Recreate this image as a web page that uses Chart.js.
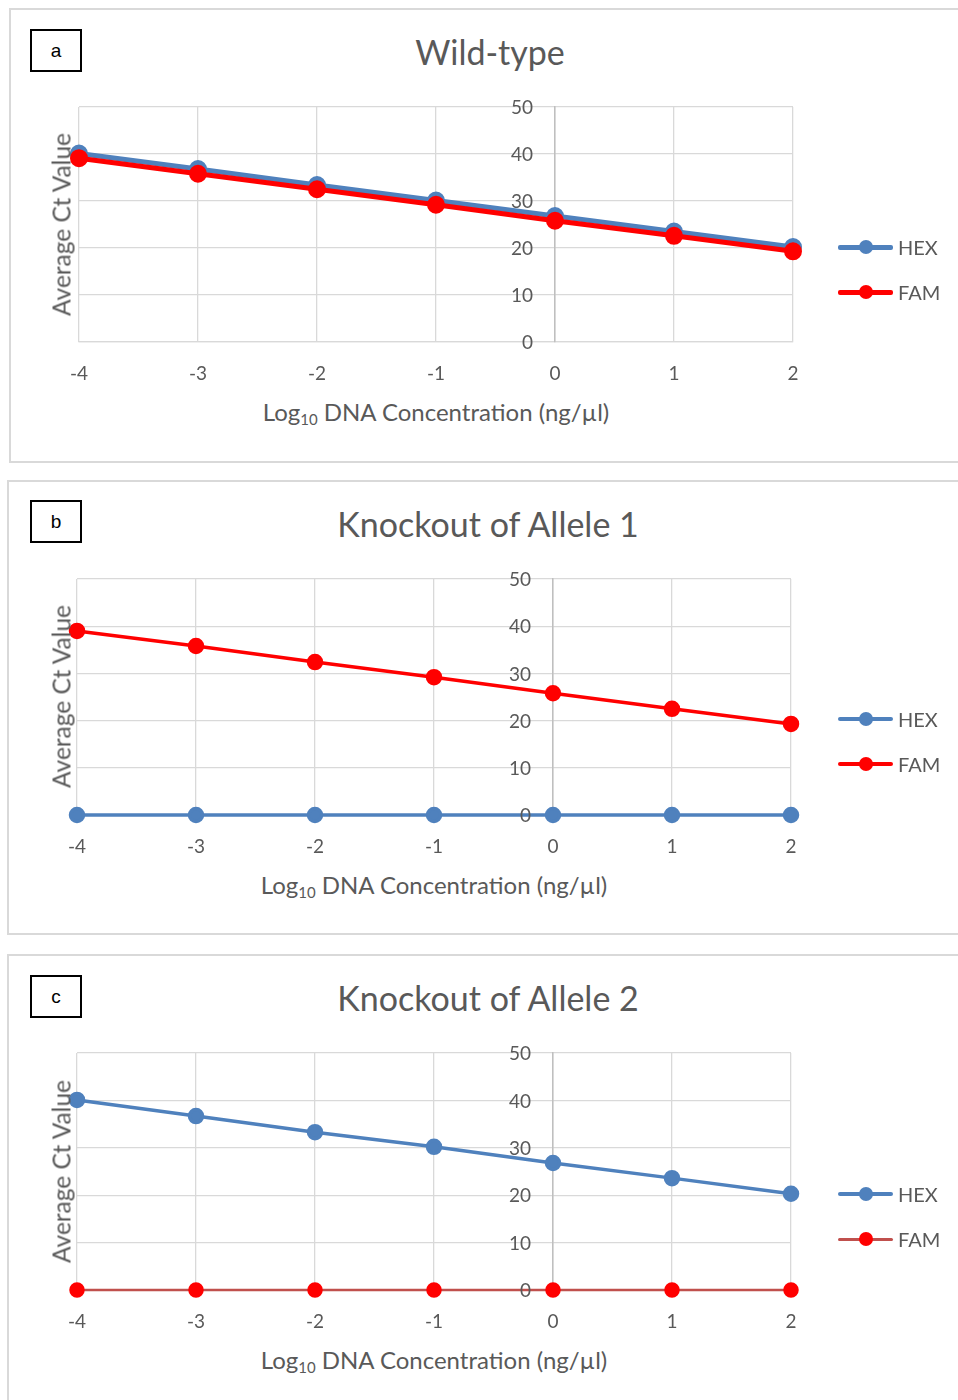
<!DOCTYPE html>
<html>
<head>
<meta charset="utf-8">
<script src="https://cdn.jsdelivr.net/npm/chart.js@4.4.1/dist/chart.umd.min.js"></script>
<style>
  html, body { margin: 0; padding: 0; background: #fff; }
  body { width: 958px; height: 1400px; position: relative; overflow: hidden; font-family: Lato, "Open Sans", sans-serif; color: #595959; }
  .panel { position: absolute; border: 2px solid #d9d9d9; box-sizing: border-box; background: #fff; }
  .tag { position: absolute; width: 52px; height: 43px; border: 2px solid #000; box-sizing: border-box;
         font: 19px "Liberation Sans", Arial, sans-serif; color: #000; text-align: center; line-height: 39px; }
  .title { position: absolute; font-size: 34px; text-align: center; width: 600px; white-space: nowrap; line-height: 40px; }
  .xtitle { position: absolute; font-size: 24px; text-align: center; width: 500px; white-space: nowrap; }
  .xtitle sub { font-size: 15px; vertical-align: -4px; }
  .ytitle { position: absolute; font-size: 24.5px; width: 300px; text-align: center; white-space: nowrap; transform: rotate(-90deg); }
  .chartbox { position: absolute; }
  .leg { position: absolute; font-size: 20px; height: 24px; line-height: 24px; white-space: nowrap; }
  .leg .ln { position: absolute; left: 0; top: 10px; width: 55px; height: 4px; border-radius: 2px; }
  .leg .dot { position: absolute; left: 21px; top: 5px; width: 14px; height: 14px; border-radius: 50%; }
  .leg .tx { position: absolute; left: 60px; top: 0; }
</style>
</head>
<body>
<script>
// x positions (log10 concentration) and average Ct values
const concentrations = [-4, -3, -2, -1, 0, 1, 2];
const hexWildType = [40.1, 36.8, 33.4, 30.1, 26.8, 23.5, 20.2];
const famWildType = [39.1, 35.8, 32.5, 29.2, 25.8, 22.6, 19.3];
const hexKnockout1 = [0, 0, 0, 0, 0, 0, 0];
const famKnockout1 = [39.0, 35.8, 32.4, 29.2, 25.8, 22.5, 19.3];
const hexKnockout2 = [40.1, 36.7, 33.3, 30.2, 26.8, 23.6, 20.3];
const famKnockout2 = [0, 0, 0, 0, 0, 0, 0];
const yMin = 0, yMax = 50, yStep = 10;
const seriesNames = ['HEX', 'FAM'];

const BLUE = '#4f81bd';
const RED = '#ff0000';
const DARK_RED = '#c0504d';
const GRID = '#d9d9d9';
const TEXT = '#595959';
const FONT = 'Lato, "Open Sans", sans-serif';

function pts(values) {
    return concentrations.map((x, i) => ({ x: x, y: values[i] }));
}

function addDiv(cls, css, html) {
    const d = document.createElement('div');
    d.className = cls;
    Object.assign(d.style, css);
    if (html !== undefined) d.innerHTML = html;
    document.body.appendChild(d);
    return d;
}

// y labels sit left of the axis at x = 0 (Excel style), drawn above the lines
const yLabelsPlugin = {
    id: 'yLabels',
    afterDatasetsDraw(chart) {
        const ys = chart.scales.y;
        const axisX = chart.scales.x.getPixelForValue(0);
        const ctx = chart.ctx;
        ctx.save();
        ctx.font = `19px ${FONT}`;
        ctx.fillStyle = TEXT;
        ctx.textAlign = 'right';
        ctx.textBaseline = 'middle';
        ys.ticks.forEach(t => {
            ctx.fillText(String(t.value), axisX - 22, ys.getPixelForValue(t.value) + 1);
        });
        ctx.restore();
    }
};

// one framed panel: letter tag, title, chart, axis titles, legend
function makePanel(p) {
    addDiv('panel', { left: p.box[0] + 'px', top: p.box[1] + 'px', width: p.box[2] + 'px', height: p.box[3] + 'px' });
    addDiv('tag', { left: '30px', top: p.tagTop + 'px' }, p.tag);
    addDiv('title', { left: (p.titleX - 300) + 'px', top: (p.titleY - 20) + 'px' }, p.title);

    const padL = 50, padR = 50, padT = 20, axisH = 45;
    const w = p.plot.right - p.plot.left + padL + padR;
    const h = p.plot.bottom - p.plot.top + padT + axisH;
    const box = addDiv('chartbox', { left: (p.plot.left - padL) + 'px', top: (p.plot.top - padT) + 'px', width: w + 'px', height: h + 'px' });
    const canvas = document.createElement('canvas');
    box.appendChild(canvas);

    const cx = (p.plot.left + p.plot.right) / 2;
    addDiv('xtitle', { left: (cx - 250) + 'px', top: (p.plot.bottom + 55) + 'px' }, 'Log<sub>10</sub> DNA Concentration (ng/µl)');
    addDiv('ytitle', { left: (61 - 150) + 'px', top: ((p.plot.top + p.plot.bottom) / 2 - 15) + 'px' }, 'Average Ct Value');

    p.series.forEach((s, i) => {
        const top = p.legendY[i] - 12;
        addDiv('leg', { left: '838px', top: top + 'px' },
            `<span class="ln" style="background:${s.line};height:${s.legLine}px;top:${12 - s.legLine / 2}px"></span>` +
            `<span class="dot" style="background:${s.dot}"></span><span class="tx">${s.name}</span>`);
    });

    new Chart(canvas, {
        type: 'line',
        data: {
            datasets: p.series.map((s, i) => ({
                label: s.name,
                data: pts(s.values),
                borderColor: s.line,
                backgroundColor: s.dot,
                pointBackgroundColor: s.dot,
                pointBorderColor: s.dot,
                borderWidth: s.width,
                pointRadius: 6.5,
                pointHoverRadius: 6.5,
                tension: 0,
                clip: false,
                order: p.series.length - i
            }))
        },
        options: {
            responsive: true,
            maintainAspectRatio: false,
            animation: false,
            layout: { padding: { left: padL, right: padR, top: padT, bottom: 0 } },
            plugins: { legend: { display: false }, tooltip: { enabled: false } },
            scales: {
                x: {
                    type: 'linear',
                    min: concentrations[0],
                    max: concentrations[concentrations.length - 1],
                    afterFit: (scale) => { scale.height = axisH; },
                    ticks: { stepSize: 1, color: TEXT, padding: 20, font: { family: FONT, size: 19 } },
                    grid: { color: GRID, lineWidth: 1.3, drawTicks: false },
                    border: { color: GRID, width: 1.3 }
                },
                y: {
                    position: { x: 0 },
                    min: yMin,
                    max: yMax,
                    ticks: { stepSize: yStep, display: false },
                    grid: { color: GRID, lineWidth: 1.3, drawTicks: false },
                    border: { color: '#bfbfbf', width: 1.5 }
                }
            }
        },
        plugins: [yLabelsPlugin]
    });
}

makePanel({
    box: [9, 8, 960, 455], tag: 'a', tagTop: 29, title: 'Wild-type', titleX: 490, titleY: 52,
    plot: { left: 79, right: 793, top: 107, bottom: 342 }, legendY: [247, 292],
    series: [
        { name: seriesNames[0], values: hexWildType, line: BLUE, dot: BLUE, width: 5, legLine: 5 },
        { name: seriesNames[1], values: famWildType, line: RED, dot: RED, width: 5, legLine: 5 }
    ]
});
makePanel({
    box: [7, 480, 960, 455], tag: 'b', tagTop: 500, title: 'Knockout of Allele 1', titleX: 488, titleY: 524,
    plot: { left: 77, right: 791, top: 579, bottom: 815 }, legendY: [719, 764],
    series: [
        { name: seriesNames[0], values: hexKnockout1, line: BLUE, dot: BLUE, width: 3.5, legLine: 4 },
        { name: seriesNames[1], values: famKnockout1, line: RED, dot: RED, width: 3.5, legLine: 4 }
    ]
});
makePanel({
    box: [7, 954, 960, 460], tag: 'c', tagTop: 975, title: 'Knockout of Allele 2', titleX: 488, titleY: 998,
    plot: { left: 77, right: 791, top: 1053, bottom: 1290 }, legendY: [1194, 1239],
    series: [
        { name: seriesNames[0], values: hexKnockout2, line: BLUE, dot: BLUE, width: 3.5, legLine: 4 },
        { name: seriesNames[1], values: famKnockout2, line: DARK_RED, dot: RED, width: 2.5, legLine: 3 }
    ]
});
</script>
</body>
</html>
